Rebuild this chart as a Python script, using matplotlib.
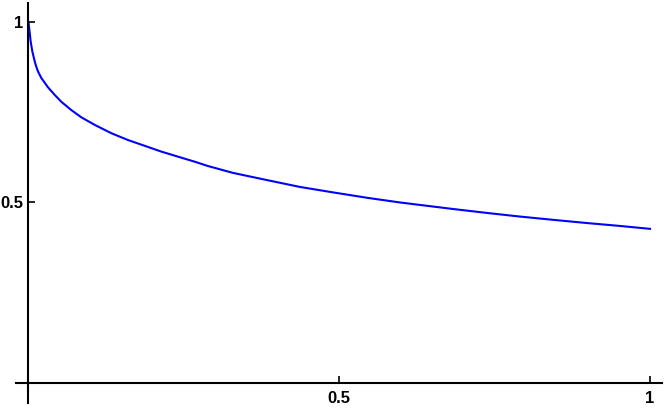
import matplotlib
matplotlib.use("Agg")
import matplotlib.pyplot as plt

# values
x_vals = [0.0, 0.0035, 0.0061, 0.0100, 0.0126, 0.0153, 0.0206, 0.0314,
          0.0422, 0.0528, 0.0689, 0.0850, 0.1065, 0.1332, 0.1601, 0.1870,
          0.2137, 0.2405, 0.2674, 0.2888, 0.329, 0.384, 0.437, 0.490, 0.545,
          0.598, 0.683, 0.738, 0.791, 0.844, 0.899, 0.952, 1.0]
y_vals = [1.0, 0.946, 0.919, 0.891, 0.876, 0.863, 0.845, 0.819,
          0.798, 0.779, 0.756, 0.736, 0.715, 0.692, 0.673, 0.657,
          0.641, 0.627, 0.613, 0.601, 0.582, 0.562, 0.543, 0.528, 0.513,
          0.500, 0.482, 0.471, 0.461, 0.452, 0.443, 0.435, 0.427]

x_ticks = [0.5, 1]
x_ticklabels = ["0.5", "1"]
y_ticks = [0.5, 1]
y_ticklabels = ["0.5", "1"]

plt.rcParams['font.family'] = ['Liberation Sans', 'DejaVu Sans']

fig = plt.figure(figsize=(6.64, 4.08), dpi=100)
ax = fig.add_axes([16 / 664, 5 / 408, 646.5 / 664, 400 / 408])

ax.plot(x_vals, y_vals, color="#0000ff", lw=1.5, solid_joinstyle="round")

ax.set_xlim(-0.0201, 1.0201)
ax.set_ylim(-0.0554, 1.0526)

for s in ["top", "right"]:
    ax.spines[s].set_visible(False)
for s in ["left", "bottom"]:
    ax.spines[s].set_position(("data", 0))
    ax.spines[s].set_linewidth(1.5)
    ax.spines[s].set_color("black")

ax.set_xticks(x_ticks)
ax.set_xticklabels(x_ticklabels, fontweight="bold", fontsize=12)
ax.set_yticks(y_ticks)
ax.set_yticklabels(y_ticklabels, fontweight="bold", fontsize=12)
ax.tick_params(axis="both", direction="in", length=5, width=1.2, color="black")
ax.tick_params(axis="x", pad=6)
ax.tick_params(axis="y", pad=4)

fig.savefig("out.png", dpi=100)
